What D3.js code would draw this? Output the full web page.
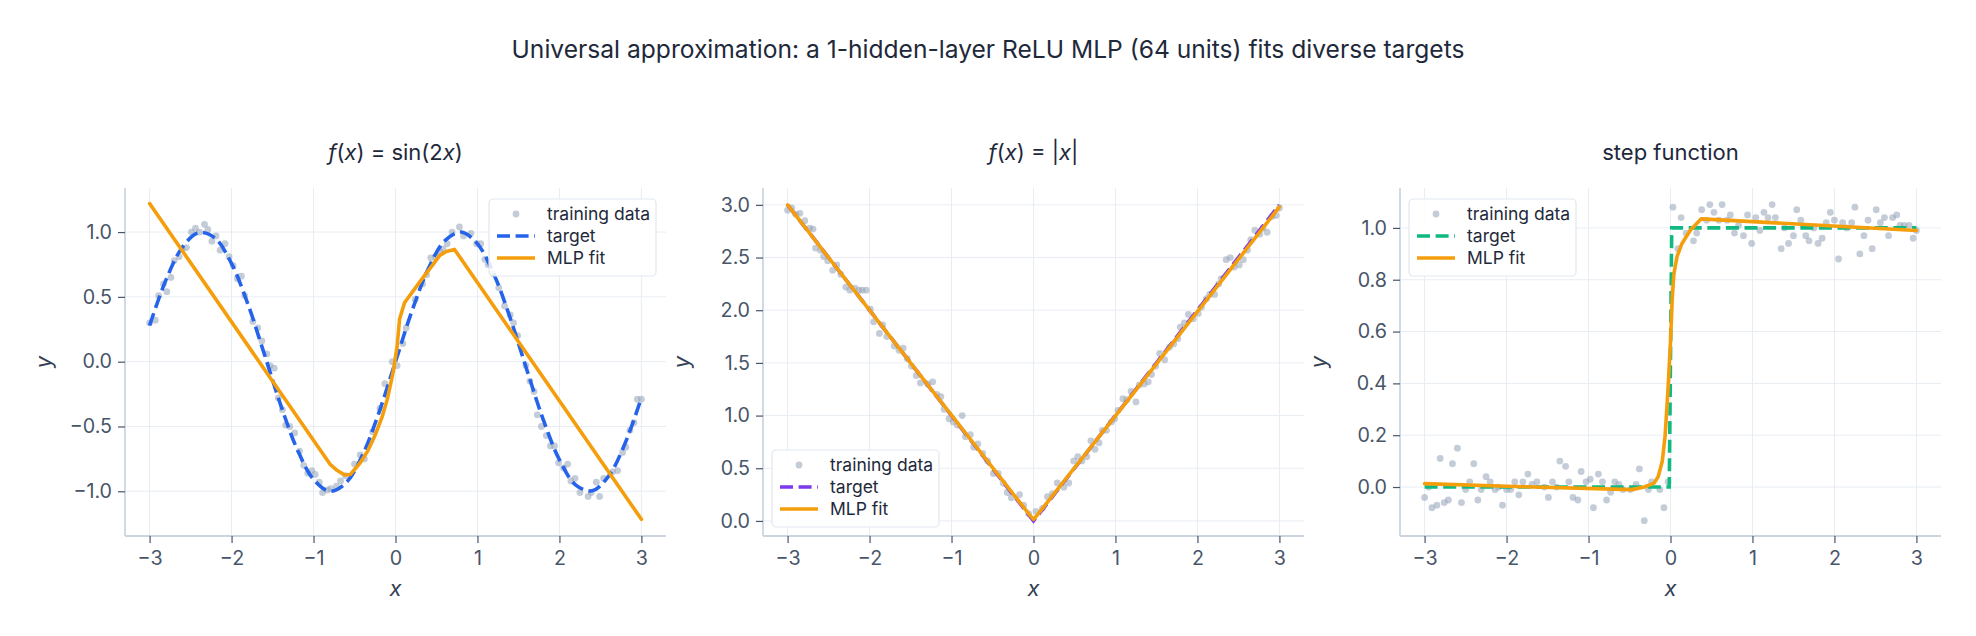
<!DOCTYPE html>
<html>
<head>
<meta charset="utf-8">
<script src="https://cdn.jsdelivr.net/npm/d3@7"></script>
<style>
  body { margin: 0; background: #fff; }
  text { font-family: Inter, "Liberation Sans", Arial, sans-serif; }
</style>
</head>
<body>
<script>
// ---- data ----
var xTicks = [-3, -2, -1, 0, 1, 2, 3];

// panel 1 : sin(2x)
var sinPtsX = [-3.00, -2.93, -2.89, -2.83, -2.79, -2.74, -2.70, -2.64, -2.60, -2.55, -2.49, -2.44, -2.39, -2.33, -2.29,
  -2.24, -2.19, -2.14, -2.08, -2.03, -1.98, -1.93, -1.88, -1.84, -1.74, -1.68, -1.63, -1.57, -1.53, -1.48, -1.43, -1.38,
  -1.34, -1.29, -1.23, -1.17, -1.12, -1.07, -1.02, -0.98, -0.93, -0.89, -0.83, -0.79, -0.72, -0.67, -0.61, -0.50, -0.43,
  -0.38, -0.28, -0.19, -0.13, -0.04, 0.02, 0.09, 0.13, 0.24, 0.33, 0.38, 0.43, 0.49, 0.54, 0.58, 0.63, 0.69, 0.78, 0.83,
  0.92, 0.99, 1.04, 1.09, 1.13, 1.19, 1.26, 1.33, 1.40, 1.44, 1.49, 1.59, 1.64, 1.69, 1.73, 1.78, 1.84, 1.89, 1.94, 1.99,
  2.05, 2.10, 2.14, 2.19, 2.25, 2.35, 2.39, 2.45, 2.49, 2.54, 2.65, 2.71, 2.77, 2.81, 2.86, 2.91, 2.95, 3.00];
var sinPtsY = [0.30, 0.32, 0.51, 0.60, 0.54, 0.65, 0.78, 0.81, 0.87, 0.88, 1.00, 1.03, 1.00, 1.06, 1.02,
  0.93, 0.97, 0.86, 0.91, 0.81, 0.74, 0.64, 0.66, 0.51, 0.31, 0.26, 0.16, 0.06, -0.03, -0.05, -0.28, -0.37,
  -0.49, -0.50, -0.55, -0.69, -0.80, -0.86, -0.84, -0.87, -0.93, -1.01, -0.99, -0.98, -0.96, -0.92, -0.88, -0.79, -0.72,
  -0.75, -0.54, -0.36, -0.17, 0.00, -0.03, 0.14, 0.26, 0.48, 0.60, 0.67, 0.80, 0.81, 0.85, 0.87, 0.91, 1.00, 1.04, 0.97,
  0.99, 0.91, 0.91, 0.79, 0.75, 0.68, 0.57, 0.43, 0.36, 0.30, 0.20, -0.03, -0.15, -0.23, -0.41, -0.50, -0.57, -0.65, -0.65, -0.78,
  -0.82, -0.79, -0.92, -0.90, -1.01, -1.04, -1.01, -0.93, -1.04, -0.90, -0.85, -0.84, -0.70, -0.66, -0.53, -0.47, -0.29, -0.29];
var sinTargetX = [-3.0, -2.8, -2.6, -2.4, -2.2, -2.0, -1.8, -1.6, -1.4, -1.2, -1.0, -0.8, -0.6, -0.4, -0.2, 0.0,
  0.2, 0.4, 0.6, 0.8, 1.0, 1.2, 1.4, 1.6, 1.8, 2.0, 2.2, 2.4, 2.6, 2.8, 3.0];
var sinTargetY = [0.279, 0.631, 0.883, 0.996, 0.952, 0.757, 0.443, 0.058, -0.335, -0.675, -0.909, -1.000, -0.932, -0.717, -0.389, 0.0,
  0.389, 0.717, 0.932, 1.000, 0.909, 0.675, 0.335, -0.058, -0.443, -0.757, -0.952, -0.996, -0.883, -0.631, -0.279];
var sinFitX = [-3.00, -0.80, -0.71, -0.62, -0.55, -0.43, -0.34, -0.25, -0.16, -0.10, -0.03, 0.02, 0.05, 0.11, 0.29, 0.47, 0.54, 0.62, 0.72, 3.00];
var sinFitY = [1.22, -0.79, -0.84, -0.875, -0.87, -0.78, -0.69, -0.57, -0.42, -0.29, -0.085, 0.12, 0.33, 0.455, 0.61, 0.76, 0.82, 0.85, 0.866, -1.216];
var sinYTicks = [-1.0, -0.5, 0.0, 0.5, 1.0];

// panel 2 : |x|
var absPtsX = [-3.00, -2.95, -2.90, -2.85, -2.79, -2.73, -2.69, -2.66, -2.60, -2.56, -2.51, -2.45, -2.40, -2.35, -2.29,
  -2.24, -2.18, -2.13, -2.09, -2.04, -1.99, -1.95, -1.88, -1.84, -1.79, -1.70, -1.64, -1.59, -1.54, -1.49, -1.43, -1.38,
  -1.29, -1.23, -1.18, -1.13, -1.09, -1.03, -0.98, -0.93, -0.87, -0.83, -0.77, -0.73, -0.68, -0.62, -0.56, -0.49, -0.43,
  -0.37, -0.32, -0.27, -0.17, -0.12, -0.06, 0.03, 0.11, 0.17, 0.23, 0.29, 0.37, 0.43, 0.49, 0.54, 0.59, 0.65, 0.70, 0.75,
  0.80, 0.84, 0.89, 0.95, 0.99, 1.03, 1.09, 1.14, 1.19, 1.25, 1.29, 1.35, 1.40, 1.44, 1.49, 1.54, 1.60, 1.66, 1.71, 1.76,
  1.79, 1.84, 1.89, 1.95, 2.01, 2.05, 2.11, 2.15, 2.21, 2.26, 2.29, 2.35, 2.40, 2.45, 2.51, 2.56, 2.61, 2.65, 2.70, 2.76,
  2.80, 2.85, 2.91, 2.96, 3.00];
var absPtsY = [2.95, 2.97, 2.91, 2.92, 2.85, 2.78, 2.77, 2.59, 2.57, 2.51, 2.47, 2.38, 2.43, 2.34, 2.22,
  2.19, 2.21, 2.19, 2.19, 2.19, 2.01, 1.89, 1.78, 1.86, 1.75, 1.66, 1.62, 1.64, 1.54, 1.47, 1.38, 1.31,
  1.30, 1.32, 1.20, 1.18, 1.06, 0.97, 0.94, 0.91, 1.00, 0.80, 0.82, 0.70, 0.73, 0.64, 0.57, 0.45, 0.45,
  0.36, 0.27, 0.22, 0.25, 0.15, 0.07, 0.09, 0.12, 0.23, 0.26, 0.36, 0.32, 0.36, 0.57, 0.61, 0.57, 0.61, 0.76, 0.68,
  0.74, 0.86, 0.86, 0.94, 0.97, 1.05, 1.16, 1.15, 1.23, 1.13, 1.29, 1.30, 1.32, 1.39, 1.47, 1.59, 1.53, 1.65, 1.68, 1.73,
  1.84, 1.88, 1.96, 1.92, 1.97, 2.03, 2.11, 2.15, 2.15, 2.25, 2.30, 2.48, 2.50, 2.41, 2.43, 2.48, 2.57, 2.67, 2.76, 2.72,
  2.78, 2.74, 2.89, 2.90, 2.97];
var absTargetX = [-3, 0, 3];
var absTargetY = [3, 0, 3];
var absFitX = [-3.00, -1.50, -0.04, 0.00, 0.04, 1.50, 3.00];
var absFitY = [3.00, 1.50, 0.05, 0.015, 0.05, 1.49, 2.98];
var absYTicks = [0.0, 0.5, 1.0, 1.5, 2.0, 2.5, 3.0];

// panel 3 : step function
var stepPtsX = [-3.00, -2.95, -2.91, -2.85, -2.81, -2.76, -2.71, -2.66, -2.60, -2.55, -2.50, -2.45, -2.40, -2.35, -2.31,
  -2.25, -2.20, -2.14, -2.10, -2.05, -2.00, -1.95, -1.90, -1.85, -1.80, -1.74, -1.69, -1.63, -1.54, -1.49, -1.44, -1.39,
  -1.35, -1.28, -1.24, -1.19, -1.13, -1.09, -1.03, -0.98, -0.94, -0.88, -0.83, -0.78, -0.73, -0.68, -0.63, -0.58, -0.49,
  -0.42, -0.38, -0.32, -0.27, -0.23, -0.13, -0.08, -0.03,
  0.03, 0.09, 0.13, 0.19, 0.28, 0.32, 0.38, 0.44, 0.48, 0.53, 0.59, 0.63, 0.69, 0.73, 0.78, 0.83, 0.89, 0.94, 0.99,
  1.04, 1.09, 1.14, 1.19, 1.24, 1.28, 1.35, 1.39, 1.44, 1.50, 1.54, 1.59, 1.65, 1.69, 1.75, 1.80, 1.85, 1.90, 1.95,
  2.00, 2.05, 2.10, 2.15, 2.21, 2.25, 2.31, 2.36, 2.41, 2.46, 2.51, 2.56, 2.61, 2.66, 2.71, 2.76, 2.80, 2.85, 2.91,
  2.96, 3.00];
var stepPtsY = [-0.04, 0.00, -0.08, -0.07, 0.11, -0.06, -0.05, 0.09, 0.15, -0.06, -0.01, 0.02, 0.09, -0.05, -0.01,
  0.04, 0.02, -0.01, 0.00, -0.07, -0.01, -0.01, 0.02, -0.03, 0.02, 0.05, 0.01, 0.02, 0.00, -0.04, 0.02, 0.00,
  0.10, 0.08, 0.02, -0.04, -0.05, 0.06, 0.02, 0.03, -0.08, 0.05, 0.02, -0.05, -0.02, 0.02, 0.01, -0.01, -0.01,
  0.01, 0.07, -0.13, -0.01, 0.02, -0.01, -0.08, 0.02,
  1.08, 0.92, 1.04, 0.98, 0.95, 0.98, 1.07, 1.03, 1.09, 1.06, 1.03, 1.09, 1.03, 1.05, 0.98, 1.01, 0.97, 1.05, 0.94,
  1.04, 0.99, 1.06, 1.04, 1.09, 1.04, 0.92, 1.00, 0.94, 0.97, 1.07, 1.03, 0.97, 0.95, 1.00, 0.94, 0.96, 1.02, 1.06,
  1.03, 0.88, 1.02, 1.00, 1.02, 1.08, 0.90, 0.97, 1.03, 0.92, 1.07, 1.02, 1.04, 0.97, 1.04, 1.05, 1.01, 1.01, 1.01,
  0.96, 0.99];
var stepTargetX = [-3, -0.015, 0.015, 3];
var stepTargetY = [0, 0, 1, 1];
var stepFitX = [-3.00, -2.00, -0.47, -0.32, -0.20, -0.15, -0.10, -0.065, -0.03, 0.00, 0.02, 0.04, 0.08, 0.14, 0.24, 0.375, 3.00];
var stepFitY = [0.013, 0.003, -0.01, 0.0, 0.015, 0.04, 0.10, 0.20, 0.38, 0.56, 0.72, 0.82, 0.89, 0.94, 0.99, 1.035, 0.99];
var stepYTicks = [0.0, 0.2, 0.4, 0.6, 0.8, 1.0];

// ---- layout ----
var W = 1976, H = 636;
var axLeft = [125, 763, 1400];
var axTop = 188, axW = 541, axH = 348;

var svg = d3.select("body").append("svg")
  .attr("width", W).attr("height", H);

svg.append("text")
  .attr("x", W / 2).attr("y", 58)
  .attr("text-anchor", "middle")
  .attr("font-size", 24.6)
  .attr("fill", "#1e293b")
  .text("Universal approximation: a 1-hidden-layer ReLU MLP (64 units) fits diverse targets");

function zip(xs, ys) {
  return xs.map(function(d, i) { return [d, ys[i]]; });
}
function fmtMinus(s) { return s.replace("-", "\u2212"); }

var panels = [
  { title: "sin", pts: zip(sinPtsX, sinPtsY), target: zip(sinTargetX, sinTargetY), fit: zip(sinFitX, sinFitY),
    yDomain: [-1.345, 1.34], yTicks: sinYTicks, tColor: "#2563eb", legend: "ur" },
  { title: "abs", pts: zip(absPtsX, absPtsY), target: zip(absTargetX, absTargetY), fit: zip(absFitX, absFitY),
    yDomain: [-0.143, 3.16], yTicks: absYTicks, tColor: "#7c3aed", legend: "ll" },
  { title: "step function", pts: zip(stepPtsX, stepPtsY), target: zip(stepTargetX, stepTargetY), fit: zip(stepFitX, stepFitY),
    yDomain: [-0.189, 1.154], yTicks: stepYTicks, tColor: "#10b981", legend: "ul" }
];

panels.forEach(function(p, k) {
  var g = svg.append("g").attr("transform", "translate(" + axLeft[k] + "," + axTop + ")");
  var x = d3.scaleLinear().domain([-3.3, 3.3]).range([0, axW]);
  var y = d3.scaleLinear().domain(p.yDomain).range([axH, 0]);

  // grid
  g.append("g").selectAll("line").data(xTicks).enter().append("line")
    .attr("x1", function(d) { return x(d); }).attr("x2", function(d) { return x(d); })
    .attr("y1", 0).attr("y2", axH)
    .attr("stroke", "#e8edf3").attr("stroke-width", 1);
  g.append("g").selectAll("line").data(p.yTicks).enter().append("line")
    .attr("y1", function(d) { return y(d); }).attr("y2", function(d) { return y(d); })
    .attr("x1", 0).attr("x2", axW)
    .attr("stroke", "#e8edf3").attr("stroke-width", 1);

  // axes
  var xAxis = g.append("g").attr("transform", "translate(0," + axH + ")")
    .call(d3.axisBottom(x).tickValues(xTicks).tickSize(7).tickPadding(8)
      .tickFormat(function(d) { return fmtMinus(d3.format("d")(d)); }));
  var yAxis = g.append("g")
    .call(d3.axisLeft(y).tickValues(p.yTicks).tickSize(7).tickPadding(6)
      .tickFormat(function(d) { return fmtMinus(d3.format(".1f")(d)); }));
  [xAxis, yAxis].forEach(function(a) {
    a.select(".domain").attr("stroke", "#cbd5e1").attr("stroke-width", 1.8);
    a.selectAll(".tick line").attr("stroke", "#475569").attr("stroke-width", 1.2);
    a.selectAll(".tick text").attr("fill", "#475569").attr("font-size", 19.7)
      .attr("font-family", "Inter, Liberation Sans, Arial, sans-serif");
  });
  xAxis.select(".domain").attr("d", "M0,0H" + axW);
  yAxis.select(".domain").attr("d", "M0,0V" + axH);

  // training data
  g.append("g").selectAll("circle").data(p.pts).enter().append("circle")
    .attr("cx", function(d) { return x(d[0]); })
    .attr("cy", function(d) { return y(d[1]); })
    .attr("r", 3.4)
    .attr("fill", "#94a3b8").attr("fill-opacity", 0.55);

  var line = d3.line()
    .x(function(d) { return x(d[0]); })
    .y(function(d) { return y(d[1]); });

  g.append("path").datum(p.target)
    .attr("d", k === 0 ? line.curve(d3.curveCatmullRom)(p.target) : line.curve(d3.curveLinear)(p.target))
    .attr("fill", "none").attr("stroke", p.tColor).attr("stroke-width", 3.6)
    .attr("stroke-dasharray", "13,5.6");
  g.append("path").datum(p.fit)
    .attr("d", line.curve(d3.curveLinear))
    .attr("fill", "none").attr("stroke", "#f59e0b").attr("stroke-width", 3.6)
    .attr("stroke-linejoin", "round").attr("stroke-linecap", "round");

  // titles
  var t = g.append("text").attr("x", axW / 2).attr("y", -28)
    .attr("text-anchor", "middle").attr("font-size", 22).attr("fill", "#1e293b");
  if (p.title === "sin") {
    t.append("tspan").attr("font-style", "italic").text("f");
    t.append("tspan").text("(");
    t.append("tspan").attr("font-style", "italic").text("x");
    t.append("tspan").text(") = sin(2");
    t.append("tspan").attr("font-style", "italic").text("x");
    t.append("tspan").text(")");
  } else if (p.title === "abs") {
    t.append("tspan").attr("font-style", "italic").text("f");
    t.append("tspan").text("(");
    t.append("tspan").attr("font-style", "italic").text("x");
    t.append("tspan").text(") = |");
    t.append("tspan").attr("font-style", "italic").text("x");
    t.append("tspan").text("|");
  } else {
    t.text(p.title);
  }

  g.append("text").attr("x", axW / 2).attr("y", axH + 60)
    .attr("text-anchor", "middle").attr("font-size", 22).attr("font-style", "italic")
    .attr("fill", "#334155").text("x");
  g.append("text").attr("transform", "translate(-74," + (axH / 2) + ") rotate(-90)")
    .attr("text-anchor", "middle").attr("font-size", 22).attr("font-style", "italic")
    .attr("fill", "#334155").text("y");

  // legend
  var lw = 167, lh = 77, lx, ly;
  if (p.legend === "ur") { lx = axW - 10 - lw; ly = 11; }
  else if (p.legend === "ul") { lx = 9; ly = 11; }
  else { lx = 9; ly = axH - 9 - lh; }
  var lg = g.append("g").attr("transform", "translate(" + lx + "," + ly + ")");
  lg.append("rect").attr("width", lw).attr("height", lh).attr("rx", 4)
    .attr("fill", "#fff").attr("fill-opacity", 0.85)
    .attr("stroke", "#e2e8f0").attr("stroke-width", 1.2);
  var rows = [15, 37, 59];
  lg.append("circle").attr("cx", 27).attr("cy", rows[0]).attr("r", 3.4)
    .attr("fill", "#94a3b8").attr("fill-opacity", 0.55);
  lg.append("line").attr("x1", 8).attr("x2", 46).attr("y1", rows[1]).attr("y2", rows[1])
    .attr("stroke", p.tColor).attr("stroke-width", 3.6).attr("stroke-dasharray", "13,5.6");
  lg.append("line").attr("x1", 8).attr("x2", 46).attr("y1", rows[2]).attr("y2", rows[2])
    .attr("stroke", "#f59e0b").attr("stroke-width", 3.6);
  lg.selectAll("text.lab").data(["training data", "target", "MLP fit"]).enter().append("text")
    .attr("class", "lab")
    .attr("x", 58).attr("y", function(d, i) { return rows[i] + 6; })
    .attr("font-size", 17.5).attr("fill", "#1e293b")
    .text(function(d) { return d; });
});
</script>
</body>
</html>
